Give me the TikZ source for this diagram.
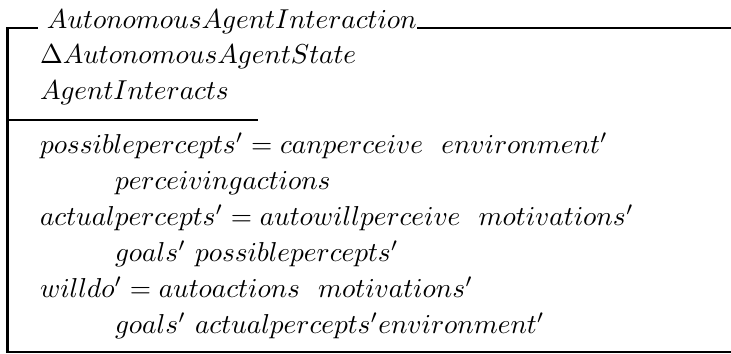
\documentclass[tikz,border=0pt]{standalone}
\begin{document}
\begin{tikzpicture}[x=0.3656pt,y=-0.3656pt,
  rule/.style={line width=0.75pt,line cap=rect},
  txt/.style={anchor=base west,inner sep=0pt,outer sep=0pt}]
\useasboundingbox (0,0) rectangle (731,354);
% text
\node[txt] (title) at (47,28) {$AutonomousAgentInteraction$};
\node[txt] (d1) at (40,63) {$\Delta AutonomousAgentState$};
\node[txt] (d2) at (40,99) {$AgentInteracts$};
\node[txt] (p1) at (40,153) {$possiblepercepts' = canperceive\ \ environment'$};
\node[txt] (p1b) at (115,189) {$perceivingactions$};
\node[txt] (p2) at (40,225) {$actualpercepts' = autowillperceive\ \ motivations'$};
\node[txt] (p2b) at (115,261) {$goals'\ possiblepercepts'$};
\node[txt] (p3) at (40,297) {$willdo' = autoactions\ \ motivations'$};
\node[txt] (p3b) at (115,333) {$goals'\ actualpercepts' environment'$};
% frame
\coordinate (tl) at (7.5,28);
\coordinate (tl2) at (37,28);
\coordinate (tr1) at (418,28);
\coordinate (tr2) at (731,28);
\coordinate (ml) at (7.5,120);
\coordinate (mr) at (257,120);
\coordinate (bl) at (7.5,352);
\coordinate (br) at (731,352);
\draw[rule] (tl2) -- (tl) -- (bl) -- (br);
\draw[rule] (tr1) -- (tr2);
\draw[rule] (ml) -- (mr);
\end{tikzpicture}
\end{document}
